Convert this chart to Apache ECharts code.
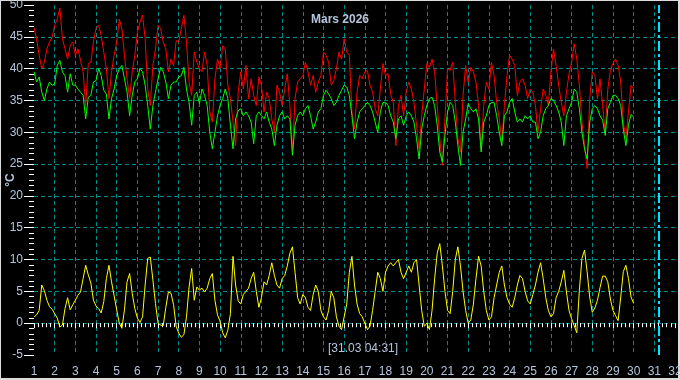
<!DOCTYPE html>
<html><head><meta charset="utf-8">
<script src="https://cdn.jsdelivr.net/npm/echarts@6/dist/echarts.min.js"></script>
<style>html,body{margin:0;padding:0;background:#000;}#c{width:680px;height:380px;}</style>
</head><body><div id="c"></div>
<script>
const TITLE = 'Mars 2026';
const Y_NAME = '°C';
const NOW_LABEL = '[31.03 04:31]';
const NOW_DAY = 31 + (4 + 31 / 60) / 24;
const X_MIN = 1, X_MAX = 32, X_STEP = 1;
const Y_MIN = -5, Y_MAX = 50, Y_STEP = 5;
const START_DAY = 1;
const SAMPLES_PER_DAY = 8; // one sample every 3 hours

const redValues = [
  46.4, 44.7, 42.1, 40.0, 41.0, 43.1, 44.2, 44.9,
  46.8, 47.8, 49.5, 44.7, 43.1, 41.5, 43.6, 44.2,
  42.1, 43.1, 41.3, 39.5, 34.2, 40.8, 41.0, 44.2,
  46.3, 46.8, 45.2, 42.6, 40.0, 35.3, 39.5, 42.1,
  44.2, 47.8, 46.3, 42.1, 38.4, 35.3, 39.5, 42.1,
  45.7, 47.3, 48.4, 44.7, 36.8, 34.2, 40.5, 43.1,
  46.8, 46.3, 44.2, 43.1, 39.5, 41.5, 40.5, 44.4,
  44.2, 46.3, 48.4, 44.2, 37.9, 35.8, 42.6, 41.0,
  40.0, 39.5, 42.6, 40.5, 33.2, 31.6, 38.4, 41.5,
  40.0, 43.6, 43.1, 37.4, 35.3, 31.6, 27.9, 36.3,
  39.5, 36.8, 40.5, 35.3, 38.4, 35.8, 34.2, 38.7,
  37.4, 33.2, 36.3, 35.3, 32.1, 30.0, 37.4, 36.3,
  34.2, 36.8, 39.2, 34.2, 26.9, 35.3, 37.9, 38.4,
  38.9, 41.0, 39.5, 37.4, 38.9, 36.3, 37.9, 38.9,
  42.6, 42.1, 41.0, 37.4, 38.1, 40.0, 42.6, 41.5,
  44.7, 42.6, 42.1, 33.2, 30.5, 36.3, 38.9, 38.4,
  39.5, 39.7, 37.4, 36.3, 33.7, 32.6, 36.8, 40.8,
  38.9, 39.2, 36.0, 34.7, 27.9, 34.2, 35.8, 32.6,
  36.3, 37.9, 36.8, 34.7, 31.1, 27.4, 32.6, 36.8,
  40.8, 40.2, 41.5, 39.5, 34.2, 29.0, 24.8, 32.1,
  40.0, 39.7, 41.0, 34.7, 29.0, 26.9, 35.8, 40.5,
  37.9, 40.2, 39.5, 37.9, 34.2, 27.4, 34.2, 37.9,
  36.8, 41.0, 38.9, 34.7, 32.1, 28.5, 34.2, 38.9,
  42.1, 41.5, 40.5, 35.8, 37.9, 38.4, 37.4, 35.3,
  36.8, 36.3, 34.2, 30.0, 33.7, 36.8, 35.8, 34.2,
  39.5, 43.1, 40.5, 37.4, 34.7, 32.6, 36.3, 39.2,
  41.0, 43.9, 41.5, 37.4, 31.6, 27.9, 24.3, 35.3,
  39.5, 38.9, 35.3, 38.4, 34.2, 30.0, 36.8, 39.7,
  40.8, 41.5, 40.5, 37.9, 31.6, 29.0, 33.2, 37.4,
  36.8
];

const greenValues = [
  39.5, 37.9, 38.7, 36.3, 35.0, 36.8, 37.9, 37.4,
  37.6, 40.5, 41.3, 39.5, 38.9, 36.3, 39.2, 37.4,
  37.4, 36.8, 36.3, 35.8, 32.1, 35.5, 35.8, 37.9,
  38.1, 40.0, 38.9, 36.6, 36.0, 32.1, 35.3, 36.8,
  38.9, 40.0, 40.5, 38.4, 36.3, 32.6, 35.8, 37.9,
  38.4, 40.0, 39.5, 37.4, 34.2, 30.5, 34.2, 36.3,
  38.4, 40.2, 39.5, 37.9, 35.3, 37.4, 37.9, 37.9,
  38.7, 38.9, 40.2, 36.8, 34.7, 31.1, 35.8, 36.3,
  34.5, 36.8, 35.8, 34.2, 30.0, 27.4, 30.0, 32.6,
  34.2, 35.3, 36.8, 35.3, 31.1, 27.4, 32.1, 33.4,
  33.7, 32.6, 33.2, 32.6, 31.6, 28.2, 32.6, 33.2,
  32.6, 32.1, 33.2, 31.6, 30.5, 27.9, 31.1, 32.6,
  33.2, 32.1, 32.6, 32.1, 26.4, 31.1, 32.6, 33.2,
  32.6, 33.7, 34.2, 32.6, 30.5, 31.6, 33.2, 33.7,
  35.8, 36.6, 36.0, 35.3, 34.2, 34.7, 35.8, 36.6,
  37.4, 37.1, 35.8, 32.6, 29.0, 31.6, 33.2, 33.7,
  34.2, 34.7, 34.2, 33.2, 31.6, 30.0, 33.2, 34.7,
  34.7, 34.2, 32.6, 31.6, 29.0, 32.1, 32.6, 31.1,
  32.6, 33.2, 32.6, 31.6, 29.0, 25.8, 30.5, 32.6,
  34.2, 35.3, 35.5, 34.2, 31.1, 26.9, 25.3, 29.5,
  33.2, 34.7, 34.2, 31.6, 27.9, 24.8, 30.0, 32.1,
  34.5, 33.7, 33.2, 33.7, 32.1, 26.9, 31.6, 32.6,
  34.2, 34.7, 34.7, 32.6, 30.0, 27.9, 32.6, 33.2,
  34.7, 35.3, 33.2, 31.6, 32.1, 31.6, 32.6, 32.1,
  32.6, 31.6, 31.6, 29.0, 30.0, 32.6, 33.7, 34.2,
  35.3, 35.0, 34.2, 33.2, 31.6, 27.9, 32.6, 33.7,
  34.7, 36.8, 36.3, 33.7, 30.0, 27.4, 25.8, 31.6,
  33.7, 34.2, 33.7, 32.6, 31.9, 29.5, 33.7, 34.7,
  35.8, 35.8, 35.3, 34.2, 30.5, 27.9, 31.1, 32.8,
  32.4
];

const yellowValues = [
  1.0, 1.3, 2.0, 6.0, 5.1, 3.6, 2.6, 2.2,
  1.5, 0.8, -0.6, -0.3, 2.3, 4.0, 2.1, 2.9,
  3.6, 4.4, 4.9, 7.0, 9.1, 7.6, 6.3, 3.6,
  2.7, 2.3, 1.6, 3.4, 7.0, 9.1, 6.5, 4.3,
  2.1, 0.0, -0.8, 2.1, 6.5, 7.8, 4.7, 2.3,
  0.8, 0.1, 1.0, 6.0, 10.2, 10.4, 6.8, 3.1,
  0.0, -0.3, -0.4, 2.5, 4.9, 4.7, 2.9, -0.5,
  -1.6, -2.2, -1.8, 1.0, 5.7, 8.6, 3.6, 5.7,
  5.2, 5.5, 4.9, 5.5, 7.0, 7.8, 3.6, 1.3,
  0.3, -1.5, -2.3, -1.1, 1.5, 10.5, 6.0, 3.5,
  3.0, 4.5, 5.0, 5.5, 7.0, 8.0, 5.0, 2.5,
  4.0, 6.5, 6.0, 7.5, 9.5, 7.5, 6.0, 5.5,
  7.0, 7.5, 9.0, 11.0, 12.0, 8.0, 4.0, 3.0,
  4.5, 4.0, 2.5, 2.0, 4.5, 6.0, 5.0, 2.0,
  1.0, 0.5, 2.0, 5.0, 4.0, 1.0, -0.5, -1.0,
  1.0, 3.0, 8.0, 10.5, 6.0, 3.0, 1.5, 1.0,
  0.0, -1.0, -0.5, 2.0, 5.0, 8.0, 7.0, 5.0,
  8.0, 9.0, 9.5, 9.0, 9.5, 10.0, 8.0, 7.0,
  8.0, 9.0, 8.0, 9.5, 10.0, 6.0, 2.0, -0.5,
  0.0, -1.0, 2.0, 7.0, 11.0, 12.5, 9.0, 5.0,
  2.0, 1.5, 5.0, 10.0, 12.0, 9.0, 5.0, 2.0,
  0.0, 0.5, 3.0, 7.0, 10.5, 9.0, 5.0, 2.0,
  0.5, 1.0, 4.0, 6.0, 8.0, 9.0, 6.0, 4.0,
  3.0, 2.5, 4.0, 6.0, 7.5, 7.0, 5.0, 3.5,
  3.0, 4.5, 6.0, 8.0, 9.5, 7.0, 4.0, 2.0,
  1.0, 1.5, 4.0, 5.0, 6.5, 8.3, 4.9, 2.0,
  0.7, -0.4, -1.5, 5.2, 10.2, 11.5, 8.1, 4.1,
  1.7, 2.4, 3.6, 5.6, 7.4, 7.4, 6.5, 3.8,
  2.0, 1.2, 0.4, 4.1, 8.1, 9.1, 7.0, 4.1,
  3.1
];

function toPairs(vals) {
  return vals.map((v, i) => [START_DAY + i / SAMPLES_PER_DAY, v]);
}

const TXT = '#b4c4da';
const GRID = '#008c8c';
const FONT = 'Liberation Sans, Arial, sans-serif';

const chart = echarts.init(document.getElementById('c'), null, { renderer: 'canvas' });
const lineSeries = (name, vals, color) => ({
  name, type: 'line', data: toPairs(vals), showSymbol: false, symbol: 'none',
  lineStyle: { color, width: 1 }, itemStyle: { color }, animation: false, silent: true
});

chart.setOption({
  backgroundColor: '#000',
  animation: false,
  title: {
    text: TITLE, left: 'center', top: 9,
    textStyle: { color: TXT, fontSize: 12, fontWeight: 'bold', fontFamily: FONT }
  },
  grid: { left: 34, right: 5, top: 5, bottom: 25, containLabel: false, outerBoundsMode: 'none' },
  xAxis: {
    type: 'value', min: X_MIN, max: X_MAX, interval: X_STEP,
    axisLine: { show: false },
    axisTick: { show: true, length: 5, lineStyle: { color: '#fff', width: 1 } },
    minorTick: { show: true, splitNumber: 5, length: 4, lineStyle: { color: '#fff', width: 1 } },
    axisLabel: { color: TXT, fontSize: 12, fontFamily: FONT, margin: 11, hideOverlap: false },
    splitLine: { show: true, showMinLine: false, showMaxLine: false,
      lineStyle: { color: GRID, width: 1, type: [4, 3] } }
  },
  yAxis: {
    type: 'value', min: Y_MIN, max: Y_MAX, interval: Y_STEP,
    axisLine: { show: false },
    axisTick: { show: true, length: 10, lineStyle: { color: '#fff', width: 1 } },
    minorTick: { show: true, splitNumber: 6, length: 5, lineStyle: { color: '#fff', width: 1 } },
    axisLabel: { color: TXT, fontSize: 12, fontFamily: FONT, margin: 11 },
    splitLine: { show: true, showMinLine: false, showMaxLine: false,
      lineStyle: { color: GRID, width: 1, type: [4, 3] } }
  },
  series: [
    lineSeries('max', redValues, '#ff0000'),
    lineSeries('mid', greenValues, '#00ff00'),
    Object.assign(lineSeries('out', yellowValues, '#ffff00'), {
      markLine: {
        silent: true, symbol: 'none', label: { show: false },
        lineStyle: { color: '#00e5ff', width: 2, type: [10, 3, 3, 3] },
        data: [{ xAxis: NOW_DAY }]
      }
    })
  ],
  graphic: [
    { type: 'text', x: 11, y: 180, rotation: Math.PI / 2,
      style: { text: Y_NAME, fill: TXT, fontSize: 12, fontWeight: 'bold', fontFamily: FONT,
        align: 'center', verticalAlign: 'middle' } },
    { type: 'text', left: 328, top: 343,
      style: { text: NOW_LABEL, fill: TXT, fontSize: 12, fontFamily: FONT } },
    { type: 'rect', shape: { x: 0, y: 0, width: 679, height: 379 },
      style: { fill: 'none', stroke: '#dcdcdc', lineWidth: 2 }, silent: true }
  ]
});
</script></body></html>
